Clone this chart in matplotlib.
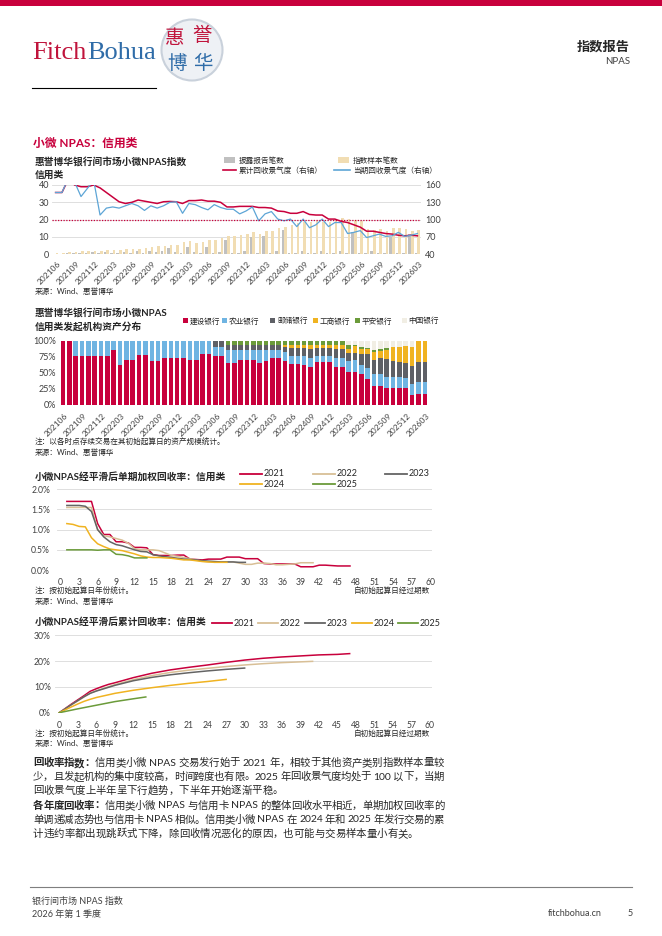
import re
import numpy as np
import matplotlib
matplotlib.use('Agg')
import matplotlib.pyplot as plt
from matplotlib.patches import Rectangle, Ellipse
from matplotlib.lines import Line2D
from matplotlib.transforms import ScaledTranslation

plt.rcParams['font.family'] = ['Lato', 'Noto Sans CJK SC', 'DejaVu Sans']
plt.rcParams['axes.unicode_minus'] = False

### data ---------------------------------------------------------------

# chart 1: index sample / disclosure counts (left) and recovery indices (right)
month_ticks = ['202106', '202109', '202112', '202203', '202206', '202209', '202212',
               '202303', '202306', '202309', '202312', '202403', '202406', '202409',
               '202412', '202503', '202506', '202509', '202512', '202603']
disclosed_cnt = [0.3, 0.3, 1.0, 0.5, 1.0, 0.5, 1.5, 0.5, 1.5, 1.0,
                 0.5, 1.5, 1.0, 2.0, 1.0, 2.0, 1.5, 2.0, 3.5, 1.5,
                 1.0, 4.0, 1.5, 1.0, 4.5, 1.0, 1.5, 8.0, 1.0, 0.5,
                 2.0, 10.0, 1.0, 10.5, 0.5, 2.0, 14.0, 1.0, 0.5, 2.0,
                 1.0, 0.5, 2.0, 1.0, 0.5, 2.0, 1.0, 13.0, 1.0, 0.5,
                 2.0, 0.5, 0.5, 10.0, 0.5, 1.0, 12.0, 0.5]
sample_cnt = [0.8, 0.8, 1.3, 1.3, 1.7, 1.7, 1.7, 1.7, 2.3, 2.7,
              2.7, 2.9, 3.2, 3.2, 3.6, 4.2, 4.6, 4.8, 5.1, 5.5,
              7.2, 7.4, 6.7, 6.9, 8.4, 8.4, 9.5, 10.3, 10.3, 11.4,
              11.8, 12.6, 11.8, 13.3, 13.7, 15.0, 16.0, 17.0, 17.9, 18.5,
              18.9, 19.0, 18.5, 18.9, 19.8, 21.0, 20.4, 20.0, 19.4, 14.7,
              14.1, 14.7, 13.7, 15.2, 15.2, 14.7, 13.7, 14.1]
cum_idx = [147, 147, 170, 160, 157, 157, 160, 155, 147, 139,
           131, 128, 130, 134, 132, 130, 128, 131, 131.5, 131,
           128, 133, 133, 134, 132, 132, 130, 122, 122, 123,
           123, 123, 121, 121, 120, 115, 114, 111, 111, 114,
           109, 108, 108, 101, 101, 97, 95, 91, 87, 80,
           80, 78, 76, 75, 73, 72, 73, 72]
cur_idx = [147, 147, 172, 165, 140, 154, 168, 108, 120, 122,
           120, 124, 128, 124, 116, 124, 120, 124, 130, 131,
           111, 128, 126, 121, 117, 126, 121, 118, 118, 110,
           115, 122, 98, 110, 114, 101, 98, 101, 88, 101,
           86, 91, 101, 88, 95, 95, 76, 78, 81, 69,
           72, 75, 71, 72, 78, 71, 73, 76]

# chart 2: originator asset share (%)
banks = ['建设银行', '农业银行', '邮储银行', '工商银行', '平安银行', '中国银行']
share_jianshe = [100, 100, 77, 77, 77, 77, 77, 77, 86, 63,
                 70, 70, 78, 78, 68, 68, 74, 74, 74, 74,
                 71, 71, 80, 80, 77, 77, 65, 65, 70, 70,
                 70, 66, 69, 74, 74, 69, 64, 64, 62, 60,
                 67, 67, 67, 59, 59, 52, 52, 48, 40, 29,
                 29, 26, 26, 26, 26, 16, 17, 17]
share_nongye = [0, 0, 23, 23, 23, 23, 23, 23, 14, 37,
                30, 30, 22, 22, 32, 32, 26, 26, 26, 26,
                29, 29, 20, 20, 14, 14, 21, 21, 16, 16,
                16, 20, 17, 12, 12, 14, 12, 12, 14, 14,
                10, 10, 10, 14, 14, 17, 18, 14, 18, 19,
                19, 18, 17, 17, 16, 17, 19, 19]
share_youchu = [0, 0, 0, 0, 0, 0, 0, 0, 0, 0,
                0, 0, 0, 0, 0, 0, 0, 0, 0, 0,
                0, 0, 0, 0, 9, 9, 8, 8, 8, 8,
                8, 8, 8, 8, 8, 8, 13, 13, 13, 14,
                12, 12, 12, 14, 14, 13, 12, 18, 21, 22,
                25, 28, 25, 24, 24, 28, 31, 31]
share_gongshang = [0, 0, 0, 0, 0, 0, 0, 0, 0, 0,
                   0, 0, 0, 0, 0, 0, 0, 0, 0, 0,
                   0, 0, 0, 0, 0, 0, 0, 0, 0, 0,
                   0, 0, 0, 0, 0, 3, 5, 5, 5, 6,
                   5, 5, 5, 6, 6, 6, 10, 8, 8, 13,
                   12, 14, 22, 23, 26, 30, 33, 33]
share_pingan = [0, 0, 0, 0, 0, 0, 0, 0, 0, 0,
                0, 0, 0, 0, 0, 0, 0, 0, 0, 0,
                0, 0, 0, 0, 0, 0, 6, 6, 6, 6,
                6, 6, 6, 6, 6, 6, 6, 6, 6, 6,
                6, 6, 6, 7, 7, 6, 2, 2, 2, 3,
                3, 3, 0, 0, 0, 0, 0, 0]
share_zhongguo = [0, 0, 0, 0, 0, 0, 0, 0, 0, 0,
                  0, 0, 0, 0, 0, 0, 0, 0, 0, 0,
                  0, 0, 0, 0, 0, 0, 0, 0, 0, 0,
                  0, 0, 0, 0, 0, 0, 0, 0, 0, 0,
                  0, 0, 0, 0, 0, 6, 6, 10, 11, 14,
                  12, 11, 10, 10, 8, 9, 0, 0]

# chart 3: smoothed single-period weighted recovery rate (%), from period 1
vintages = ['2021', '2022', '2023', '2024', '2025']
single_2021 = [1.70, 1.70, 1.70, 1.70, 1.70, 1.15, 0.88, 0.88, 0.70, 0.70,
               0.67, 0.56, 0.56, 0.55, 0.38, 0.36, 0.36, 0.36, 0.37, 0.37,
               0.27, 0.26, 0.25, 0.27, 0.27, 0.27, 0.32, 0.32, 0.32, 0.28,
               0.28, 0.28, 0.16, 0.15, 0.15, 0.15, 0.15, 0.15, 0.08, 0.08,
               0.08, 0.12, 0.12, 0.11, 0.10, 0.10, 0.10]
single_2022 = [1.55, 1.55, 1.55, 1.55, 1.55, 1.00, 0.85, 0.82, 0.78, 0.74,
               0.66, 0.53, 0.50, 0.50, 0.50, 0.48, 0.42, 0.36, 0.34, 0.31,
               0.28, 0.25, 0.22, 0.20, 0.20, 0.20, 0.20, 0.20, 0.17, 0.14,
               0.14, 0.17, 0.17, 0.16, 0.13, 0.13, 0.14, 0.15, 0.18, 0.18,
               0.18]
single_2023 = [1.60, 1.60, 1.60, 1.58, 1.45, 1.00, 0.82, 0.70, 0.63, 0.60,
               0.55, 0.50, 0.46, 0.45, 0.38, 0.35, 0.33, 0.31, 0.29, 0.27,
               0.26, 0.25, 0.23, 0.22, 0.21, 0.20, 0.20, 0.20, 0.19, 0.19]
single_2024 = [1.15, 1.13, 1.08, 1.07, 0.80, 0.65, 0.58, 0.52, 0.50, 0.48,
               0.44, 0.40, 0.35, 0.32, 0.31, 0.31, 0.30, 0.29, 0.27, 0.25,
               0.25, 0.23, 0.21, 0.20, 0.19, 0.19, 0.19]
single_2025 = [0.50, 0.50, 0.50, 0.50, 0.50, 0.49, 0.50, 0.50, 0.39, 0.38,
               0.35, 0.30, 0.30, 0.30]

# chart 4: smoothed cumulative recovery rate (%)
cum_2021_x = [0, 1, 2, 3, 4, 5, 6, 7, 8, 9, 12, 15, 18, 21, 24, 27, 30, 33, 36, 39, 42, 45, 47]
cum_2021 = [0, 1.7, 3.4, 5.0, 6.6, 8.3, 9.3, 10.2, 11.0, 11.6, 13.6, 15.3, 16.6, 17.6,
            18.5, 19.5, 20.4, 21.1, 21.6, 22.0, 22.4, 22.6, 22.9]
cum_2022_x = [0, 1, 2, 3, 4, 5, 6, 9, 12, 15, 18, 21, 24, 27, 30, 33, 36, 39, 41]
cum_2022 = [0, 1.55, 3.1, 4.6, 6.1, 7.6, 8.5, 10.9, 12.8, 14.4, 15.6, 16.5, 17.2,
            17.9, 18.5, 19.0, 19.4, 19.7, 19.9]
cum_2023_x = [0, 1, 2, 3, 4, 5, 6, 9, 12, 15, 18, 21, 24, 27, 30]
cum_2023 = [0, 1.6, 3.2, 4.7, 6.2, 7.5, 8.4, 10.6, 12.4, 13.7, 14.7, 15.5, 16.2, 16.8, 17.3]
cum_2024_x = [0, 1, 2, 3, 4, 5, 6, 9, 12, 15, 18, 21, 24, 27]
cum_2024 = [0, 1.15, 2.3, 3.4, 4.4, 5.2, 5.9, 7.5, 8.7, 9.7, 10.6, 11.4, 12.1, 12.9]
cum_2025_x = [0, 1, 3, 6, 9, 12, 14]
cum_2025 = [0, 0.5, 1.5, 2.9, 4.3, 5.4, 6.1]

### style --------------------------------------------------------------
RED = '#C8003C'
BLUE = '#2F6CA8'
LBLUE = '#5DA5D6'
TXT = '#262626'
TICK = '#404040'
GRID = '#D9D9D9'
bank_colors = ['#C8003C', '#6FB4E2', '#5E6066', '#F0B321', '#6B9B3A', '#F1EEE4']
vint_colors = ['#C8003C', '#D8BF96', '#646464', '#F0B321', '#6B9B3A']

W, H = 662, 936
fig = plt.figure(figsize=(W / 100, H / 100), dpi=100, facecolor='white')
renderer = fig.canvas.get_renderer()


def fx(x):
    return x / W


def fy(y):
    return 1 - y / H


def txt(x, y, s, size=6, **kw):
    kw.setdefault('va', 'center')
    kw.setdefault('ha', 'left')
    kw.setdefault('color', TXT)
    return fig.text(fx(x), fy(y), s, fontsize=size, **kw)


def axes_px(l, t, r, b):
    return fig.add_axes([fx(l), fy(b), (r - l) / W, (b - t) / H])


def hline(x0, x1, y, **kw):
    fig.add_artist(Line2D([fx(x0), fx(x1)], [fy(y), fy(y)], transform=fig.transFigure, **kw))


def box(x, y, w, h, c):
    fig.add_artist(Rectangle((fx(x), fy(y + h)), w / W, h / H, transform=fig.transFigure,
                             fc=c, ec='none'))


def clean(ax):
    for s in ax.spines.values():
        s.set_visible(False)
    ax.tick_params(length=0, colors=TICK, labelsize=6)


def shift_labels(ax, dx):
    off = ScaledTranslation(dx / 100, 0, fig.dpi_scale_trans)
    for lbl in ax.get_xticklabels():
        lbl.set_transform(lbl.get_transform() + off)


def is_cjk(tok):
    return len(tok) == 1 and ord(tok) > 0x2E7F


def para_line(y, segs, x0=33, x1=None, size=7.5):
    em = size * 100 / 72
    toks = []
    for s, wgt in segs:
        for m in re.findall(r'[A-Za-z0-9]+|\s|.', s):
            toks.append((m, wgt))
    widths = []
    for t, wgt in toks:
        if t.isspace():
            widths.append(em * 0.28)
        elif is_cjk(t):
            widths.append(em)
        else:
            tt = fig.text(0, 0, t, fontsize=size, weight=wgt)
            widths.append(tt.get_window_extent(renderer).width)
            tt.remove()
    gap = 0.0
    if x1 is not None:
        gap = (x1 - x0 - sum(widths)) / (len(toks) - 1)
    x = x0
    for (t, wgt), wd in zip(toks, widths):
        if t.isspace():
            pass
        elif is_cjk(t):
            txt(x + wd / 2, y, t, size=size, weight=wgt, ha='center')
        else:
            txt(x, y, t, size=size, weight=wgt)
        x += wd + gap


### page header --------------------------------------------------------
box(0, 0, W, 6, RED)
t = txt(32, 59, 'Fitch', size=19, family='Liberation Serif', color='#C0143C', va='baseline')
wf = t.get_window_extent(renderer).width
txt(32 + wf + 0.5, 59, 'Bohua', size=19, family='Liberation Serif', color=BLUE, va='baseline')
fig.add_artist(Ellipse((fx(192), fy(50)), 61 / W, 61 / H, transform=fig.transFigure,
                       fc='#EEF1F5', ec='#C9D1DB', lw=1.5))
txt(175, 38, '惠', size=14, ha='center', color='#C0143C')
txt(202, 35, '誉', size=14, ha='center', color='#C0143C')
txt(177, 63, '博', size=14, ha='center', color=BLUE)
txt(203, 63, '华', size=14, ha='center', color=BLUE)
hline(32, 156, 88, color='black', lw=0.8)
txt(630, 46, '指数报告', size=9.5, weight='bold', ha='right')
txt(630, 61, 'NPAS', size=7, ha='right', color='#404040')
txt(33, 143, '小微 NPAS：信用类', size=8.5, weight='bold', color=RED)

### chart 1 ------------------------------------------------------------
txt(35, 163, '惠誉博华银行间市场小微NPAS指数', size=7, weight='bold')
txt(35, 175, '信用类', size=7, weight='bold')
box(224, 157, 11, 6, '#C0C0C0')
txt(239, 160, '披露报告笔数', size=5.5)
box(338, 157, 11, 6, '#F1DDB3')
txt(353, 160, '指数样本笔数', size=5.5)
hline(223, 236, 170, color=RED, lw=1.2)
txt(239, 170, '累计回收景气度（右轴）', size=5.5)
hline(334, 350, 170, color=LBLUE, lw=1.2)
txt(353, 170, '当期回收景气度（右轴）', size=5.5)

ax1 = axes_px(51.8, 185, 421.2, 254.3)
xm = np.arange(len(sample_cnt))
ax1.bar(xm - 0.21, disclosed_cnt, 0.4, color='#C0C0C0', zorder=2)
ax1.bar(xm + 0.21, sample_cnt, 0.4, color='#F1DDB3', zorder=2)
ax1.set_xlim(-0.6, len(xm) - 0.4)
ax1.set_ylim(0, 40)
ax1.set_yticks(range(0, 41, 10))
ax1.grid(axis='y', color=GRID, lw=0.6)
ax1.set_axisbelow(True)
clean(ax1)
ax1.set_xticks(range(0, len(xm), 3))
ax1.set_xticklabels(month_ticks, rotation=45, ha='right', va='center', rotation_mode='anchor')
ax1.tick_params(axis='x', pad=6, labelsize=6)
ax1.tick_params(axis='y', pad=2, labelsize=6.5)
shift_labels(ax1, 4)

ax1r = ax1.twinx()
ax1r.plot(xm, cum_idx, color=RED, lw=1.1)
ax1r.plot(xm, cur_idx, color=LBLUE, lw=0.9)
ax1r.axhline(100, color=RED, lw=0.9, ls=(0, (1, 1.2)))
ax1r.set_ylim(40, 160)
ax1r.set_yticks([40, 70, 100, 130, 160])
clean(ax1r)
ax1r.tick_params(axis='y', pad=3, labelsize=6.5)
txt(35, 291, '来源：Wind、惠誉博华', size=5.5)

### chart 2 ------------------------------------------------------------
txt(35, 314, '惠誉博华银行间市场小微NPAS', size=7, weight='bold')
txt(35, 327, '信用类发起机构资产分布', size=7, weight='bold')
leg_x = [183, 221.5, 270, 313, 355, 401.5]
for bx, name, c in zip(leg_x, banks, bank_colors):
    box(bx, 318, 5, 5, c)
    txt(bx + 7, 320.7, name, size=5.5)

ax2 = axes_px(59.1, 341, 428.6, 405)
shares = [share_jianshe, share_nongye, share_youchu, share_gongshang, share_pingan, share_zhongguo]
bottom = np.zeros(len(xm))
for vals, c in zip(shares, bank_colors):
    vals = np.array(vals, dtype=float)
    ax2.bar(xm, vals, 0.72, bottom=bottom, color=c)
    bottom += vals
ax2.set_xlim(-0.6, len(xm) - 0.4)
ax2.set_ylim(0, 100)
ax2.set_yticks([0, 25, 50, 75, 100])
ax2.set_yticklabels(['0%', '25%', '50%', '75%', '100%'])
clean(ax2)
ax2.set_xticks(range(0, len(xm), 3))
ax2.set_xticklabels(month_ticks, rotation=45, ha='right', va='center', rotation_mode='anchor')
ax2.tick_params(axis='x', pad=7, labelsize=6)
ax2.tick_params(axis='y', pad=2, labelsize=6.5)
shift_labels(ax2, 4)
txt(35, 441.5, '注：以各时点存续交易在其初始起算日的资产规模统计。', size=5.5)
txt(35, 452, '来源：Wind、惠誉博华', size=5.5)

### chart 3 ------------------------------------------------------------
txt(35, 477, '小微NPAS经平滑后单期加权回收率：信用类', size=7, weight='bold')
leg3 = [(240, 474), (313, 474), (385, 474), (240, 484), (313, 484)]
for (lx, ly), v, c in zip(leg3, vintages, vint_colors):
    hline(lx, lx + 22, ly, color=c, lw=1.3)
    txt(lx + 24, ly, v, size=6.5)

ax3 = axes_px(57, 489.3, 431.5, 570)
singles = [single_2021, single_2022, single_2023, single_2024, single_2025]
for vals, c in zip(singles, vint_colors):
    ax3.plot(np.arange(1, len(vals) + 1), vals, color=c, lw=1.1)
ax3.set_xlim(-0.6, 60.24)
ax3.set_ylim(0, 2.0)
ax3.set_yticks([0, 0.5, 1.0, 1.5, 2.0])
ax3.set_yticklabels(['0.0%', '0.5%', '1.0%', '1.5%', '2.0%'])
ax3.set_xticks(range(0, 61, 3))
ax3.grid(axis='y', color=GRID, lw=0.6)
ax3.set_axisbelow(True)
clean(ax3)
ax3.tick_params(axis='x', pad=6, labelsize=6.2)
ax3.tick_params(axis='y', pad=5, labelsize=6.2)
txt(35, 590.5, '注：按初始起算日年份统计。', size=5.5)
txt(35, 601, '来源：Wind、惠誉博华', size=5.5)
txt(430, 590.5, '自初始起算日经过期数', size=5.5, ha='right')

### chart 4 ------------------------------------------------------------
txt(35, 622, '小微NPAS经平滑后累计回收率：信用类', size=7, weight='bold')
leg4 = [212, 258, 305, 352, 398]
for lx, v, c in zip(leg4, vintages, vint_colors):
    hline(lx, lx + 20, 623, color=c, lw=1.3)
    txt(lx + 22, 623, v, size=6.5)

ax4 = axes_px(55, 635.3, 431.7, 712.7)
cums = [(cum_2021_x, cum_2021), (cum_2022_x, cum_2022), (cum_2023_x, cum_2023),
        (cum_2024_x, cum_2024), (cum_2025_x, cum_2025)]
for (cx, cy), c in zip(cums, vint_colors):
    ax4.plot(cx, cy, color=c, lw=1.1)
ax4.set_xlim(-0.7, 60.28)
ax4.set_ylim(0, 30)
ax4.set_yticks([0, 10, 20, 30])
ax4.set_yticklabels(['0%', '10%', '20%', '30%'])
ax4.set_xticks(range(0, 61, 3))
ax4.grid(axis='y', color=GRID, lw=0.6)
ax4.set_axisbelow(True)
clean(ax4)
ax4.tick_params(axis='x', pad=6, labelsize=6.2)
ax4.tick_params(axis='y', pad=3, labelsize=6.2)
txt(35, 733.5, '注：按初始起算日年份统计。', size=5.5)
txt(35, 743.5, '来源：Wind、惠誉博华', size=5.5)
txt(430, 733.5, '自初始起算日经过期数', size=5.5, ha='right')

### body text ----------------------------------------------------------
body = [
    (763, [('回收率指数：', 'bold'), ('信用类小微 NPAS 交易发行始于 2021 年，相较于其他资产类别指数样本量较', 'normal')], True),
    (777, [('少，且发起机构的集中度较高，时间跨度也有限。2025 年回收景气度均处于 100 以下，当期', 'normal')], True),
    (791, [('回收景气度上半年呈下行趋势，下半年开始逐渐平稳。', 'normal')], False),
    (806, [('各年度回收率：', 'bold'), ('信用类小微 NPAS 与信用卡 NPAS 的整体回收水平相近，单期加权回收率的', 'normal')], True),
    (820, [('单调递减态势也与信用卡 NPAS 相似。信用类小微 NPAS 在 2024 年和 2025 年发行交易的累', 'normal')], True),
    (834, [('计违约率都出现跳跃式下降，除回收情况恶化的原因，也可能与交易样本量小有关。', 'normal')], False),
]
for y, segs, justify in body:
    para_line(y, segs, x0=33, x1=444 if justify else None)

### footer -------------------------------------------------------------
hline(30, 632, 887, color='#7F7F7F', lw=0.8)
txt(32, 901, '银行间市场 NPAS 指数', size=6.5, color='#404040')
txt(32, 914, '2026 年第 1 季度', size=6.5, color='#404040')
txt(548, 914, 'fitchbohua.cn', size=6.5, color='#404040')
txt(628, 914, '5', size=6.5, color='#404040')

fig.savefig('out.png', dpi=100, facecolor='white')
